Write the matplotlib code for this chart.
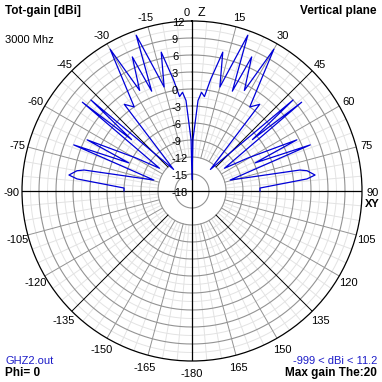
import numpy as np
import matplotlib
matplotlib.use("Agg")
import matplotlib.pyplot as plt
from matplotlib.transforms import offset_copy

plt.rcParams['font.family'] = ['Liberation Sans', 'DejaVu Sans']

# pattern vertices for the right half (theta from Z in degrees, gain in dBi)
# the left half is the mirror image
theta_right = [0, 1, 3.8, 5.5, 7.5, 9.5, 12.5, 15, 19.7, 22, 24, 27.5, 30, 34.5,
               38, 40.5, 48, 49.6, 51, 55, 59.5, 64, 66, 68.7, 74, 79, 80, 82.6,
               84, 87.5, 90]
gain_right = [-16, -9, -2, -0.5, -1.2, 2, 7.1, 1, 11.2, 1, 7.9, 2, 10.9, 0,
              1.4, -13, 6, -4, 6.9, -11, -6.5, 2.6, -5.8, 4.4, -11, 1.4, 2.6, 3.9,
              2.4, -6, -6]

ring_values = [12, 9, 6, 3, 0, -3, -6, -9, -12, -15, -18]
angle_values = [15, 30, 45, 60, 75, 90, 105, 120, 135, 150, 165, 180,
                -15, -30, -45, -60, -75, -90, -105, -120, -135, -150, -165]

R_MIN, R_MAX = -18, 12
W = 382
CX, CY, R = 192, 191, 170          # pixels
DB_PER_PX = (R_MAX - R_MIN) / R

fig = plt.figure(figsize=(W / 100, W / 100), dpi=100)
ax = fig.add_axes([(CX - R) / W, (W - CY - R) / W, 2 * R / W, 2 * R / W],
                  projection='polar')
ax.set_theta_zero_location('N')
ax.set_theta_direction(-1)
ax.set_rlim(R_MIN, R_MAX)
ax.grid(False)
ax.set_xticks([])
ax.set_yticks([])
ax.spines['polar'].set_linewidth(0.9)
ax.spines['polar'].set_color('black')

full = np.linspace(0, 2 * np.pi, 721)
dark, light = '#939393', '#e3e3e3'

# rings
for v in np.arange(-10.5, 11, 3):
    ax.plot(full, np.full_like(full, v), color=light, lw=0.7, zorder=1)
for v in range(-15, 12, 3):
    ax.plot(full, np.full_like(full, v), color=dark, lw=0.8, zorder=2)

# spokes
for a in range(0, 360, 5):
    if a % 15 == 0:
        continue
    t = np.radians(a)
    ax.plot([t, t], [-12, R_MAX], color=light, lw=0.7, zorder=1)
for a in range(0, 360, 15):
    if a % 90 == 0:
        continue
    t = np.radians(a)
    col = 'black' if a % 45 == 0 else dark
    ax.plot([t, t], [-12, R_MAX], color=col, lw=0.7, zorder=2)
for a in (0, 90):
    t = np.radians(a)
    ax.plot([t, t], [R_MIN, R_MAX], color='black', lw=0.9, zorder=3)
    ax.plot([t + np.pi, t + np.pi], [R_MIN, R_MAX], color='black', lw=0.9, zorder=3)

# pattern
th = [-t for t in theta_right[::-1]] + theta_right[1:]
g = gain_right[::-1] + gain_right[1:]
ax.plot(np.radians(th), g, color='#0000d8', lw=0.9, zorder=5)

# angle labels round the outside
fs = 8
lab_tr = offset_copy(ax.transData, fig=fig, x=0, y=-2, units='dots')
r_lab = R_MAX + 11 * DB_PER_PX
for a in angle_values:
    txt = '-180' if a == 180 else str(a)
    ax.text(np.radians(a), r_lab, txt, transform=lab_tr, ha='center',
            va='center', fontsize=fs, clip_on=False)
fig.text(187 / W, 1 - 13 / W, '0', ha='center', va='center', fontsize=fs)
fig.text(201 / W, 1 - 13 / W, 'Z', ha='center', va='center', fontsize=9)
fig.text(372 / W, 1 - 204 / W, 'XY', ha='center', va='center', fontsize=8,
         fontweight='bold')

# ring labels along the Z axis
ring_tr = offset_copy(ax.transData, fig=fig, x=-20, y=-2, units='dots')
for v in ring_values:
    ax.text(0, v, str(v), transform=ring_tr, ha='left', va='center',
            fontsize=fs, clip_on=False, zorder=6)

# corner texts
fig.text(5 / W, 1 - 11 / W, 'Tot-gain [dBi]', ha='left', va='center',
         fontsize=8.5, fontweight='bold')
fig.text(377 / W, 1 - 11 / W, 'Vertical plane', ha='right', va='center',
         fontsize=8.5, fontweight='bold')
fig.text(5 / W, 1 - 40 / W, '3000 Mhz', ha='left', va='center', fontsize=fs)
fig.text(5 / W, 1 - 361 / W, 'GHZ2.out', ha='left', va='center', fontsize=fs,
         color='#1c1cc8')
fig.text(5 / W, 1 - 373 / W, 'Phi= 0', ha='left', va='center', fontsize=8.5,
         fontweight='bold')
fig.text(377 / W, 1 - 361 / W, '-999 < dBi < 11.2', ha='right', va='center',
         fontsize=fs, color='#1c1cc8')
fig.text(377 / W, 1 - 373 / W, 'Max gain The:20', ha='right', va='center',
         fontsize=8.5, fontweight='bold')

fig.savefig('out.png', dpi=100)
